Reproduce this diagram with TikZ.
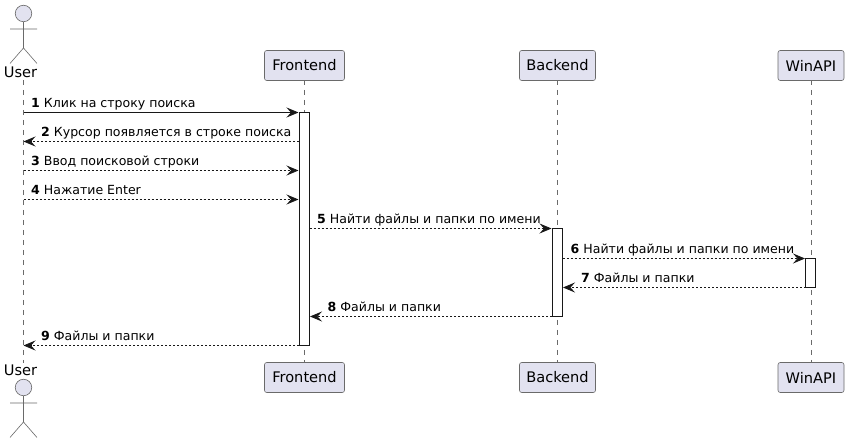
\documentclass[tikz,border=0pt]{standalone}
\usepackage{fontspec}
\setmainfont{DejaVu Sans}
\usetikzlibrary{arrows.meta}
\definecolor{puBorder}{HTML}{6A6A6A}
\definecolor{puFill}{HTML}{E2E2F0}
\definecolor{puLine}{HTML}{181818}
\tikzset{
  x=1pt,y=-1pt,
  partbox/.style={draw=puBorder,fill=puFill,line width=0.6pt,rounded corners=2.2pt,minimum height=30pt,inner sep=0pt,font=\fontsize{14.6}{16}\selectfont,text=black,anchor=center},
  lifeline/.style={draw=puBorder,line width=0.6pt,dash pattern=on 5pt off 5pt},
  actorline/.style={draw=puBorder,line width=0.6pt},
  actorhead/.style={draw=puBorder,fill=puFill,line width=0.6pt,circle,minimum size=16.5pt,inner sep=0pt},
  actorname/.style={font=\fontsize{14.6}{16}\selectfont,text=black,anchor=base,inner sep=0pt},
  activebar/.style={draw=puLine,fill=white,line width=0.8pt},
  msgsolid/.style={draw=puLine,line width=0.8pt,-{Stealth[length=12pt,width=10pt,inset=4.5pt,fill=puLine]}},
  msgdash/.style={msgsolid,dash pattern=on 2pt off 2pt},
  msglabel/.style={font=\fontsize{12.55}{15}\selectfont,text=black,anchor=base west,inner sep=0pt},
}
\begin{document}
\begin{tikzpicture}
\useasboundingbox (0,0) rectangle (847,443);
\fill[white] (0,0) rectangle (847,443);
% lifelines
\coordinate (uT) at (23.5,80); \coordinate (uB) at (23.5,363);
\coordinate (fT) at (304.5,80); \coordinate (fB) at (304.5,363);
\coordinate (bT) at (557.5,80); \coordinate (bB) at (557.5,363);
\coordinate (wT) at (811,80); \coordinate (wB) at (811,363);
\draw[lifeline] (uT) -- (uB);
\draw[lifeline] (fT) -- (fB);
\draw[lifeline] (bT) -- (bB);
\draw[lifeline] (wT) -- (wB);
% participants
\node[partbox,minimum width=80pt] (ft) at (304.5,65.5) {Frontend};
\node[partbox,minimum width=76pt] (bt) at (557.5,65.5) {Backend};
\node[partbox,minimum width=66pt] (wt) at (811,65.5) {WinAPI};
\node[partbox,minimum width=80pt] (fb) at (304.5,377.5) {Frontend};
\node[partbox,minimum width=76pt] (bb) at (557.5,377.5) {Backend};
\node[partbox,minimum width=66pt] (wb) at (811,377.5) {WinAPI};
% actors
\node[actorhead] (ah1) at (23.5,13.5) {};
\draw[actorline] (ah1.south) -- (23.5,48) (10,29) -- (37,29) (10,63.5) -- (23.5,48) -- (37,63.5);
\node[actorname] (un1) at (20.5,78) {User};
\node[actorhead] (ah2) at (23.5,387.5) {};
\draw[actorline] (ah2.south) -- (23.5,422) (10,403) -- (37,403) (10,437.5) -- (23.5,422) -- (37,437.5);
\node[actorname] (un2) at (20.5,375.5) {User};
% activations
\draw[activebar] (299,112) rectangle (309.5,345);
\draw[activebar] (552,228.5) rectangle (562.5,316);
\draw[activebar] (805.5,258.5) rectangle (815.5,287.5);
% message endpoints
\coordinate (m1a) at (23.5,112.5); \coordinate (m1b) at (298.5,112.5);
\coordinate (m2a) at (299,141.5); \coordinate (m2b) at (23.5,141.5);
\coordinate (m3a) at (23.5,170.5); \coordinate (m3b) at (298.5,170.5);
\coordinate (m4a) at (23.5,199.5); \coordinate (m4b) at (298.5,199.5);
\coordinate (m5a) at (309.5,228.5); \coordinate (m5b) at (551.5,228.5);
\coordinate (m6a) at (562.5,258.5); \coordinate (m6b) at (805,258.5);
\coordinate (m7a) at (805.5,287.5); \coordinate (m7b) at (563,287.5);
\coordinate (m8a) at (552,316.5); \coordinate (m8b) at (310,316.5);
\coordinate (m9a) at (299,345.5); \coordinate (m9b) at (23.5,345.5);
\draw[msgsolid] (m1a) -- (m1b);
\draw[msgdash] (m2a) -- (m2b);
\draw[msgdash] (m3a) -- (m3b);
\draw[msgdash] (m4a) -- (m4b);
\draw[msgdash] (m5a) -- (m5b);
\draw[msgdash] (m6a) -- (m6b);
\draw[msgdash] (m7a) -- (m7b);
\draw[msgdash] (m8a) -- (m8b);
\draw[msgdash] (m9a) -- (m9b);
% labels
\node[msglabel] (l1) at (31,108) {\textbf{1} Клик на строку поиска};
\node[msglabel] (l2) at (41,137) {\textbf{2} Курсор появляется в строке поиска};
\node[msglabel] (l3) at (31,166) {\textbf{3} Ввод поисковой строки};
\node[msglabel] (l4) at (31,195) {\textbf{4} Нажатие Enter};
\node[msglabel] (l5) at (317,224) {\textbf{5} Найти файлы и папки по имени};
\node[msglabel] (l6) at (570.5,253.5) {\textbf{6} Найти файлы и папки по имени};
\node[msglabel] (l7) at (581,282.5) {\textbf{7} Файлы и папки};
\node[msglabel] (l8) at (327.5,311.5) {\textbf{8} Файлы и папки};
\node[msglabel] (l9) at (41,340.5) {\textbf{9} Файлы и папки};
\end{tikzpicture}
\end{document}
